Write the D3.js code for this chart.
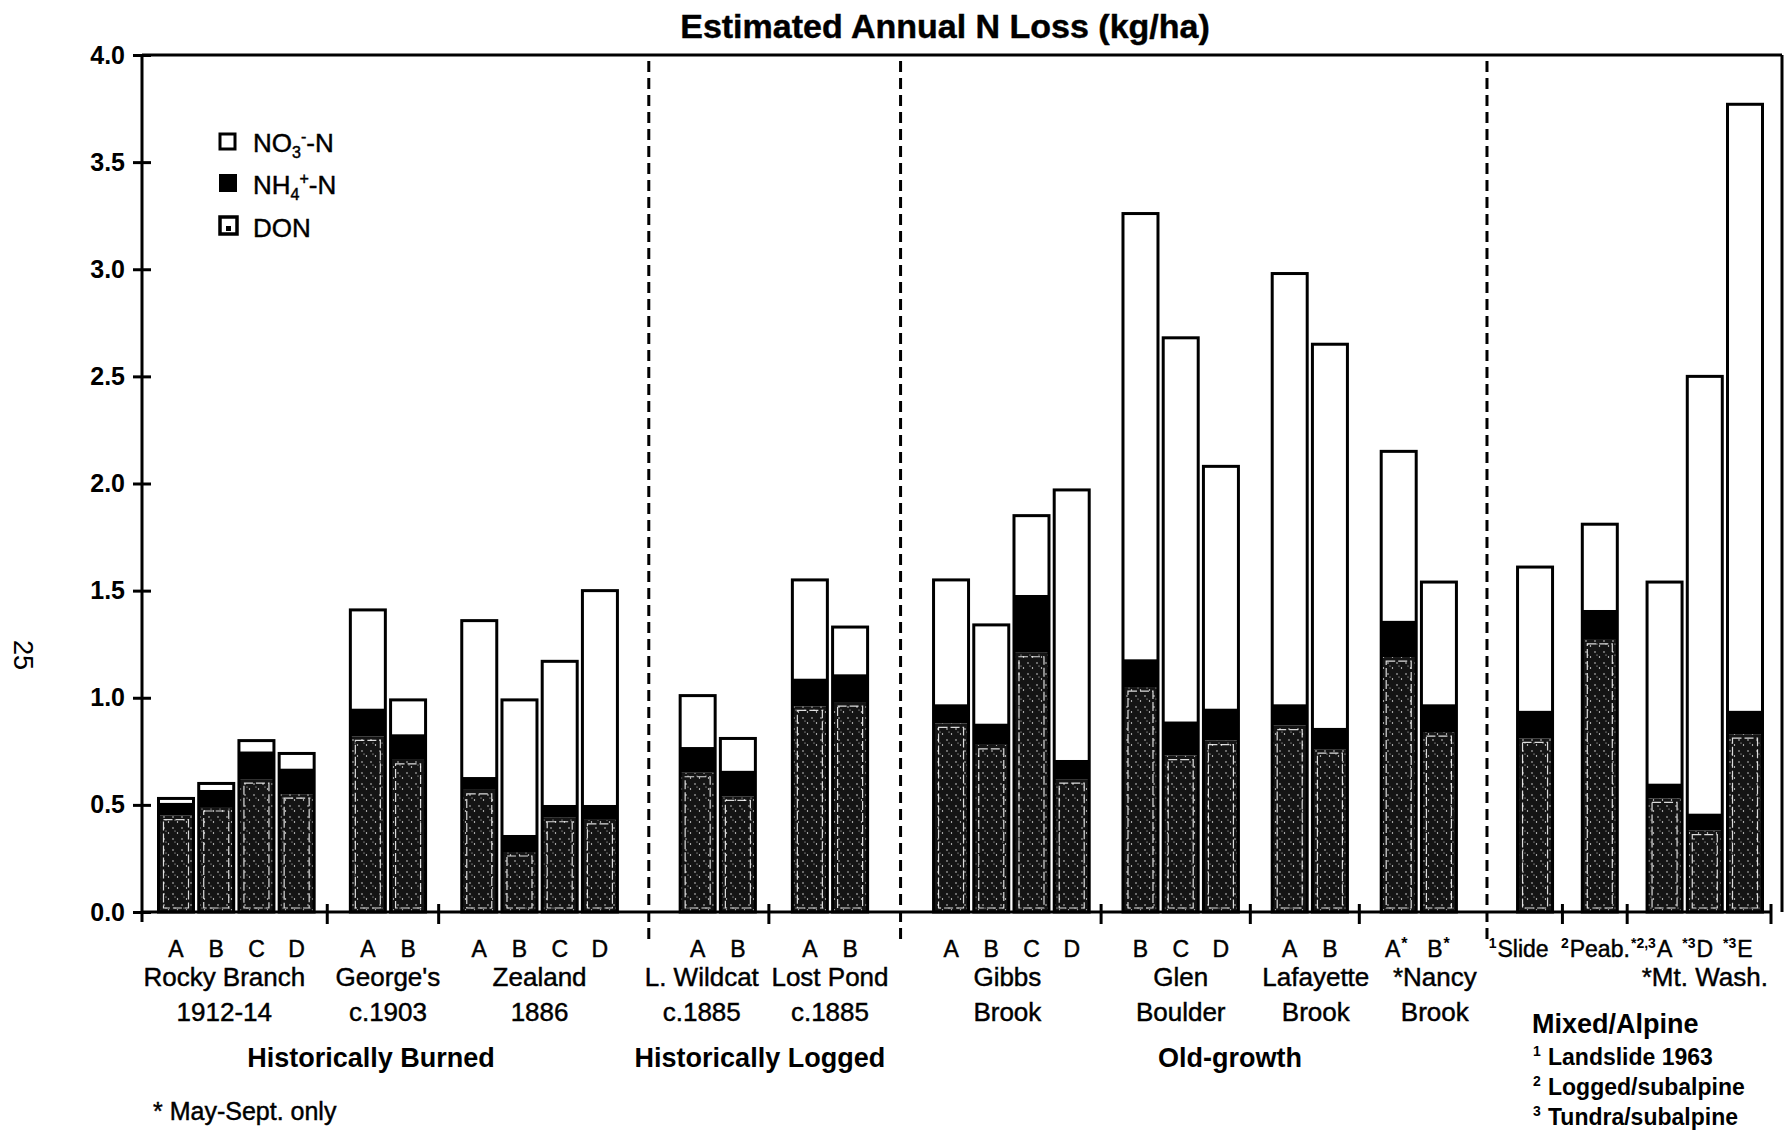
<!DOCTYPE html>
<html>
<head>
<meta charset="utf-8">
<script src="https://cdn.jsdelivr.net/npm/d3@7"></script>
<style>
  body { margin: 0; background: #fff; }
  text { font-family: "Liberation Sans", Arial, Helvetica, sans-serif; fill: #000; }
  text.heavy { stroke: #000; stroke-width: 0.45px; }
</style>
</head>
<body>
<svg id="chart" width="1786" height="1133"></svg>
<script>
// N loss per watershed bar (kg/ha), bottom to top: DON, NH4+-N, NO3--N
var don = [0.45, 0.49, 0.62, 0.55, 0.82, 0.71, 0.57, 0.28, 0.44, 0.43,
           0.65, 0.54, 0.96, 0.98,
           0.88, 0.78, 1.21, 0.62, 1.05, 0.73, 0.80, 0.87, 0.76, 1.19, 0.84,
           0.81, 1.27, 0.53, 0.38, 0.83];
var nh4 = [0.06, 0.08, 0.13, 0.12, 0.13, 0.12, 0.06, 0.08, 0.06, 0.07,
           0.12, 0.12, 0.13, 0.13,
           0.09, 0.10, 0.27, 0.09, 0.13, 0.16, 0.15, 0.10, 0.10, 0.17, 0.13,
           0.13, 0.14, 0.07, 0.08, 0.11];
var no3 = [0.02, 0.03, 0.05, 0.07, 0.46, 0.16, 0.73, 0.63, 0.67, 1.00,
           0.24, 0.15, 0.46, 0.22,
           0.58, 0.46, 0.37, 1.26, 2.08, 1.79, 1.13, 2.01, 1.79, 0.79, 0.57,
           0.67, 0.40, 0.94, 2.04, 2.83];

// bar labels: small raised prefix, letter, small raised suffix
var barPre = ["", "", "", "", "", "", "", "", "", "",
              "", "", "", "",
              "", "", "", "", "", "", "", "", "", "", "",
              "1", "2", "*2,3", "*3", "*3"];
var barLetter = ["A", "B", "C", "D", "A", "B", "A", "B", "C", "D",
                 "A", "B", "A", "B",
                 "A", "B", "C", "D", "B", "C", "D", "A", "B", "A", "B",
                 "Slide", "Peab.", "A", "D", "E"];
var barPost = ["", "", "", "", "", "", "", "", "", "",
               "", "", "", "",
               "", "", "", "", "", "", "", "", "", "*", "*",
               "", "", "", "", ""];

// watershed groups
var groupLine1 = ["Rocky Branch", "George's", "Zealand", "L. Wildcat", "Lost Pond",
                  "Gibbs", "Glen", "Lafayette", "*Nancy", "", "", "*Mt. Wash."];
var groupLine2 = ["1912-14", "c.1903", "1886", "c.1885", "c.1885",
                  "Brook", "Boulder", "Brook", "Brook", "", "", ""];
var groupSize = [4, 2, 4, 2, 2, 4, 3, 2, 2, 1, 1, 3];
var groupCat = [0, 0, 0, 1, 1, 2, 2, 2, 2, 3, 3, 3];

var categories = ["Historically Burned", "Historically Logged", "Old-growth", "Mixed/Alpine"];
var footnotes = [["1", "Landslide 1963"], ["2", "Logged/subalpine"], ["3", "Tundra/subalpine"]];
var yTicks = [0, 0.5, 1.0, 1.5, 2.0, 2.5, 3.0, 3.5, 4.0];

var svg = d3.select("#chart");

// ---- layout: slot positions with gaps between groups / categories
var groupGap = [1.77, 1.79, 1.71, 1.61];
var catGap = [2.43, 2.51, 2.39];
var slots = [], groupOf = [];
var p = 0;
groupSize.forEach(function (n, gi) {
    if (gi > 0) {
        p += groupCat[gi] !== groupCat[gi - 1] ? catGap[groupCat[gi - 1]] : groupGap[groupCat[gi]];
    }
    for (var j = 0; j < n; j++) {
        if (j > 0) p += 1;
        slots.push(p);
        groupOf.push(gi);
    }
});

var x = d3.scaleLinear().domain([0, slots[slots.length - 1]]).range([176, 1745]);
var y = d3.scaleLinear().domain([0, 4]).range([912, 55]);
var bw = 35;
var x0 = 142, xRight = 1782;

var rows = don.map(function (d, i) {
    return { i: i, don: d, nh4: nh4[i], no3: no3[i] };
});
var series = d3.stack().keys(["don", "nh4", "no3"])(rows);

// DON stipple pattern
var defs = svg.append("defs");
var pat = defs.append("pattern").attr("id", "stip")
    .attr("patternUnits", "userSpaceOnUse").attr("width", 9).attr("height", 11);
pat.append("rect").attr("width", 9).attr("height", 11).attr("fill", "#141414");
[[2, 3], [6.5, 8], [4, 6]].forEach(function (c, k) {
    pat.append("circle").attr("cx", c[0]).attr("cy", c[1]).attr("r", k == 2 ? 0.5 : 0.7).attr("fill", "#fff");
});

// ---- title
svg.append("text").attr("x", 945).attr("y", 38).attr("text-anchor", "middle")
    .attr("class", "heavy")
    .style("font-size", "34px").style("font-weight", "bold")
    .text("Estimated Annual N Loss (kg/ha)");

// ---- frame
svg.append("line").attr("x1", x0).attr("x2", xRight).attr("y1", y(4)).attr("y2", y(4))
    .attr("stroke", "#000").attr("stroke-width", 3);
svg.append("line").attr("x1", xRight).attr("x2", xRight).attr("y1", y(4)).attr("y2", y(0))
    .attr("stroke", "#000").attr("stroke-width", 3);

// ---- dashed category dividers
var lastOfCat = [], firstOfCat = [];
slots.forEach(function (s, i) {
    var c = groupCat[groupOf[i]];
    if (firstOfCat[c] === undefined) firstOfCat[c] = s;
    lastOfCat[c] = s;
});
for (var c = 0; c < categories.length - 1; c++) {
    var xm = x((lastOfCat[c] + firstOfCat[c + 1]) / 2);
    svg.append("line").attr("x1", xm).attr("x2", xm).attr("y1", y(4) + 6).attr("y2", 945)
        .attr("stroke", "#000").attr("stroke-width", 3).attr("stroke-dasharray", "11,6");
}

// ---- bars
var bars = svg.append("g");
var segFill = { don: "url(#stip)", nh4: "#000", no3: "#fff" };
series.forEach(function (s) {
    bars.selectAll(null).data(s).enter().append("rect")
        .attr("x", function (d) { return x(slots[d.data.i]) - bw / 2; })
        .attr("width", bw)
        .attr("y", function (d) { return y(d[1]); })
        .attr("height", function (d) { return y(d[0]) - y(d[1]); })
        .attr("fill", segFill[s.key]);
});
// inner frame seen inside the DON part
bars.selectAll(null).data(series[0]).enter().append("rect")
    .attr("x", function (d) { return x(slots[d.data.i]) - bw / 2 + 5; })
    .attr("width", bw - 10)
    .attr("y", function (d) { return y(d[1]) + 4; })
    .attr("height", function (d) { return y(d[0]) - y(d[1]) - 8; })
    .attr("fill", "none").attr("stroke", "#fff").attr("stroke-width", 1.2)
    .attr("stroke-dasharray", "9,3").attr("opacity", 0.85);
// outline
bars.selectAll(null).data(series[2]).enter().append("rect")
    .attr("x", function (d) { return x(slots[d.data.i]) - bw / 2; })
    .attr("width", bw)
    .attr("y", function (d) { return y(d[1]); })
    .attr("height", function (d) { return y(0) - y(d[1]); })
    .attr("fill", "none").attr("stroke", "#000").attr("stroke-width", 3);

// ---- y axis
var yAxis = d3.axisLeft(y).tickValues(yTicks).tickFormat(d3.format(".1f"))
    .tickSizeInner(9).tickSizeOuter(0).tickPadding(8);
var ga = svg.append("g").attr("transform", "translate(" + x0 + ",0)").call(yAxis);
ga.select(".domain").attr("stroke-width", 3).attr("d", "M0," + y(4) + "V" + (y(0) + 10));
ga.selectAll(".tick line").attr("x2", 9).attr("x1", -9).attr("stroke-width", 3);
ga.selectAll(".tick text").style("font-size", "25px").style("font-weight", "bold")
    .style("font-family", "'Liberation Sans', Arial, sans-serif");

// ---- x axis line and group ticks
svg.append("line").attr("x1", x0).attr("x2", 1771).attr("y1", y(0)).attr("y2", y(0))
    .attr("stroke", "#000").attr("stroke-width", 3);
var groupFirst = [], groupLast = [];
slots.forEach(function (s, i) {
    var g = groupOf[i];
    if (groupFirst[g] === undefined) groupFirst[g] = s;
    groupLast[g] = s;
});
var tickX = [];
for (var g = 0; g < groupSize.length - 1; g++) {
    if (groupCat[g] === groupCat[g + 1]) tickX.push(x((groupLast[g] + groupFirst[g + 1]) / 2) - 5);
}
tickX.push(x(slots[slots.length - 1]) + 26);
svg.selectAll(null).data(tickX).enter().append("line")
    .attr("x1", function (d) { return d; }).attr("x2", function (d) { return d; })
    .attr("y1", y(0) - 8).attr("y2", y(0) + 12)
    .attr("stroke", "#000").attr("stroke-width", 3);

// ---- bar letters
var labY = 957;
var letterNudge = { 23: -6, 24: -4, 25: -12 };
slots.forEach(function (s, i) {
    var cx = x(s) + (letterNudge[i] || 0);
    var t = svg.append("text").attr("x", cx).attr("y", labY).attr("text-anchor", "middle")
        .attr("class", "heavy").style("font-size", "23px").text(barLetter[i]);
    var half = t.node().getComputedTextLength() / 2;
    if (barPre[i]) {
        svg.append("text").attr("x", cx - half - 1).attr("y", labY - 9).attr("text-anchor", "end")
            .style("font-size", "14px").style("font-weight", "bold").text(barPre[i]);
    }
    if (barPost[i]) {
        svg.append("text").attr("x", cx + half + 1).attr("y", labY - 8)
            .style("font-size", "16px").style("font-weight", "bold").text(barPost[i]);
    }
});

// ---- group names
var groupNudge = { 0: -12, 3: -16, 5: -4, 7: 6, 8: 16 };
groupSize.forEach(function (n, gi) {
    var cx = x((groupFirst[gi] + groupLast[gi]) / 2) + (groupNudge[gi] || 0);
    if (groupLine1[gi]) svg.append("text").attr("x", cx).attr("y", 986).attr("text-anchor", "middle")
        .attr("class", "heavy").style("font-size", "26px").text(groupLine1[gi]);
    if (groupLine2[gi]) svg.append("text").attr("x", cx).attr("y", 1021).attr("text-anchor", "middle")
        .attr("class", "heavy").style("font-size", "26px").text(groupLine2[gi]);
});

// ---- category names
var catNudge = [-17, -14, 35];
for (var c = 0; c < 3; c++) {
    svg.append("text").attr("x", x((firstOfCat[c] + lastOfCat[c]) / 2) + catNudge[c]).attr("y", 1067)
        .attr("text-anchor", "middle").style("font-size", "27px").style("font-weight", "bold")
        .text(categories[c]);
}
svg.append("text").attr("x", 1532).attr("y", 1033)
    .style("font-size", "27px").style("font-weight", "bold").text(categories[3]);
footnotes.forEach(function (f, k) {
    var ty = 1065 + k * 30;
    svg.append("text").attr("x", 1533).attr("y", ty - 9).style("font-size", "14px")
        .style("font-weight", "bold").text(f[0]);
    svg.append("text").attr("x", 1548).attr("y", ty).style("font-size", "23px")
        .style("font-weight", "bold").text(f[1]);
});

svg.append("text").attr("x", 153).attr("y", 1120).attr("class", "heavy")
    .style("font-size", "25px").text("* May-Sept. only");

// page number at left margin
svg.append("text").attr("transform", "translate(14,655) rotate(90)").attr("text-anchor", "middle")
    .style("font-size", "27px").text("25");

// ---- legend
var leg = svg.append("g");
var legY = [152, 194, 237];
leg.append("rect").attr("x", 220).attr("y", legY[0] - 18).attr("width", 15).attr("height", 15)
    .attr("fill", "#fff").attr("stroke", "#000").attr("stroke-width", 3);
leg.append("rect").attr("x", 219).attr("y", legY[1] - 20).attr("width", 18).attr("height", 18)
    .attr("fill", "#000");
leg.append("rect").attr("x", 220).attr("y", legY[2] - 20).attr("width", 17).attr("height", 17)
    .attr("fill", "#fff").attr("stroke", "#000").attr("stroke-width", 3.5);
leg.append("rect").attr("x", 226).attr("y", legY[2] - 11).attr("width", 5).attr("height", 5).attr("fill", "#000");

var t1 = leg.append("text").attr("x", 253).attr("y", legY[0]).attr("class", "heavy").style("font-size", "26px");
t1.append("tspan").text("NO");
t1.append("tspan").attr("dy", 6).style("font-size", "16px").text("3");
t1.append("tspan").attr("dy", -16).style("font-size", "16px").text("-");
t1.append("tspan").attr("dy", 10).text("-N");
var t2 = leg.append("text").attr("x", 253).attr("y", legY[1]).attr("class", "heavy").style("font-size", "26px");
t2.append("tspan").text("NH");
t2.append("tspan").attr("dy", 6).style("font-size", "16px").text("4");
t2.append("tspan").attr("dy", -16).style("font-size", "16px").text("+");
t2.append("tspan").attr("dy", 10).text("-N");
leg.append("text").attr("x", 253).attr("y", legY[2]).attr("class", "heavy").style("font-size", "26px").text("DON");
</script>
</body>
</html>
